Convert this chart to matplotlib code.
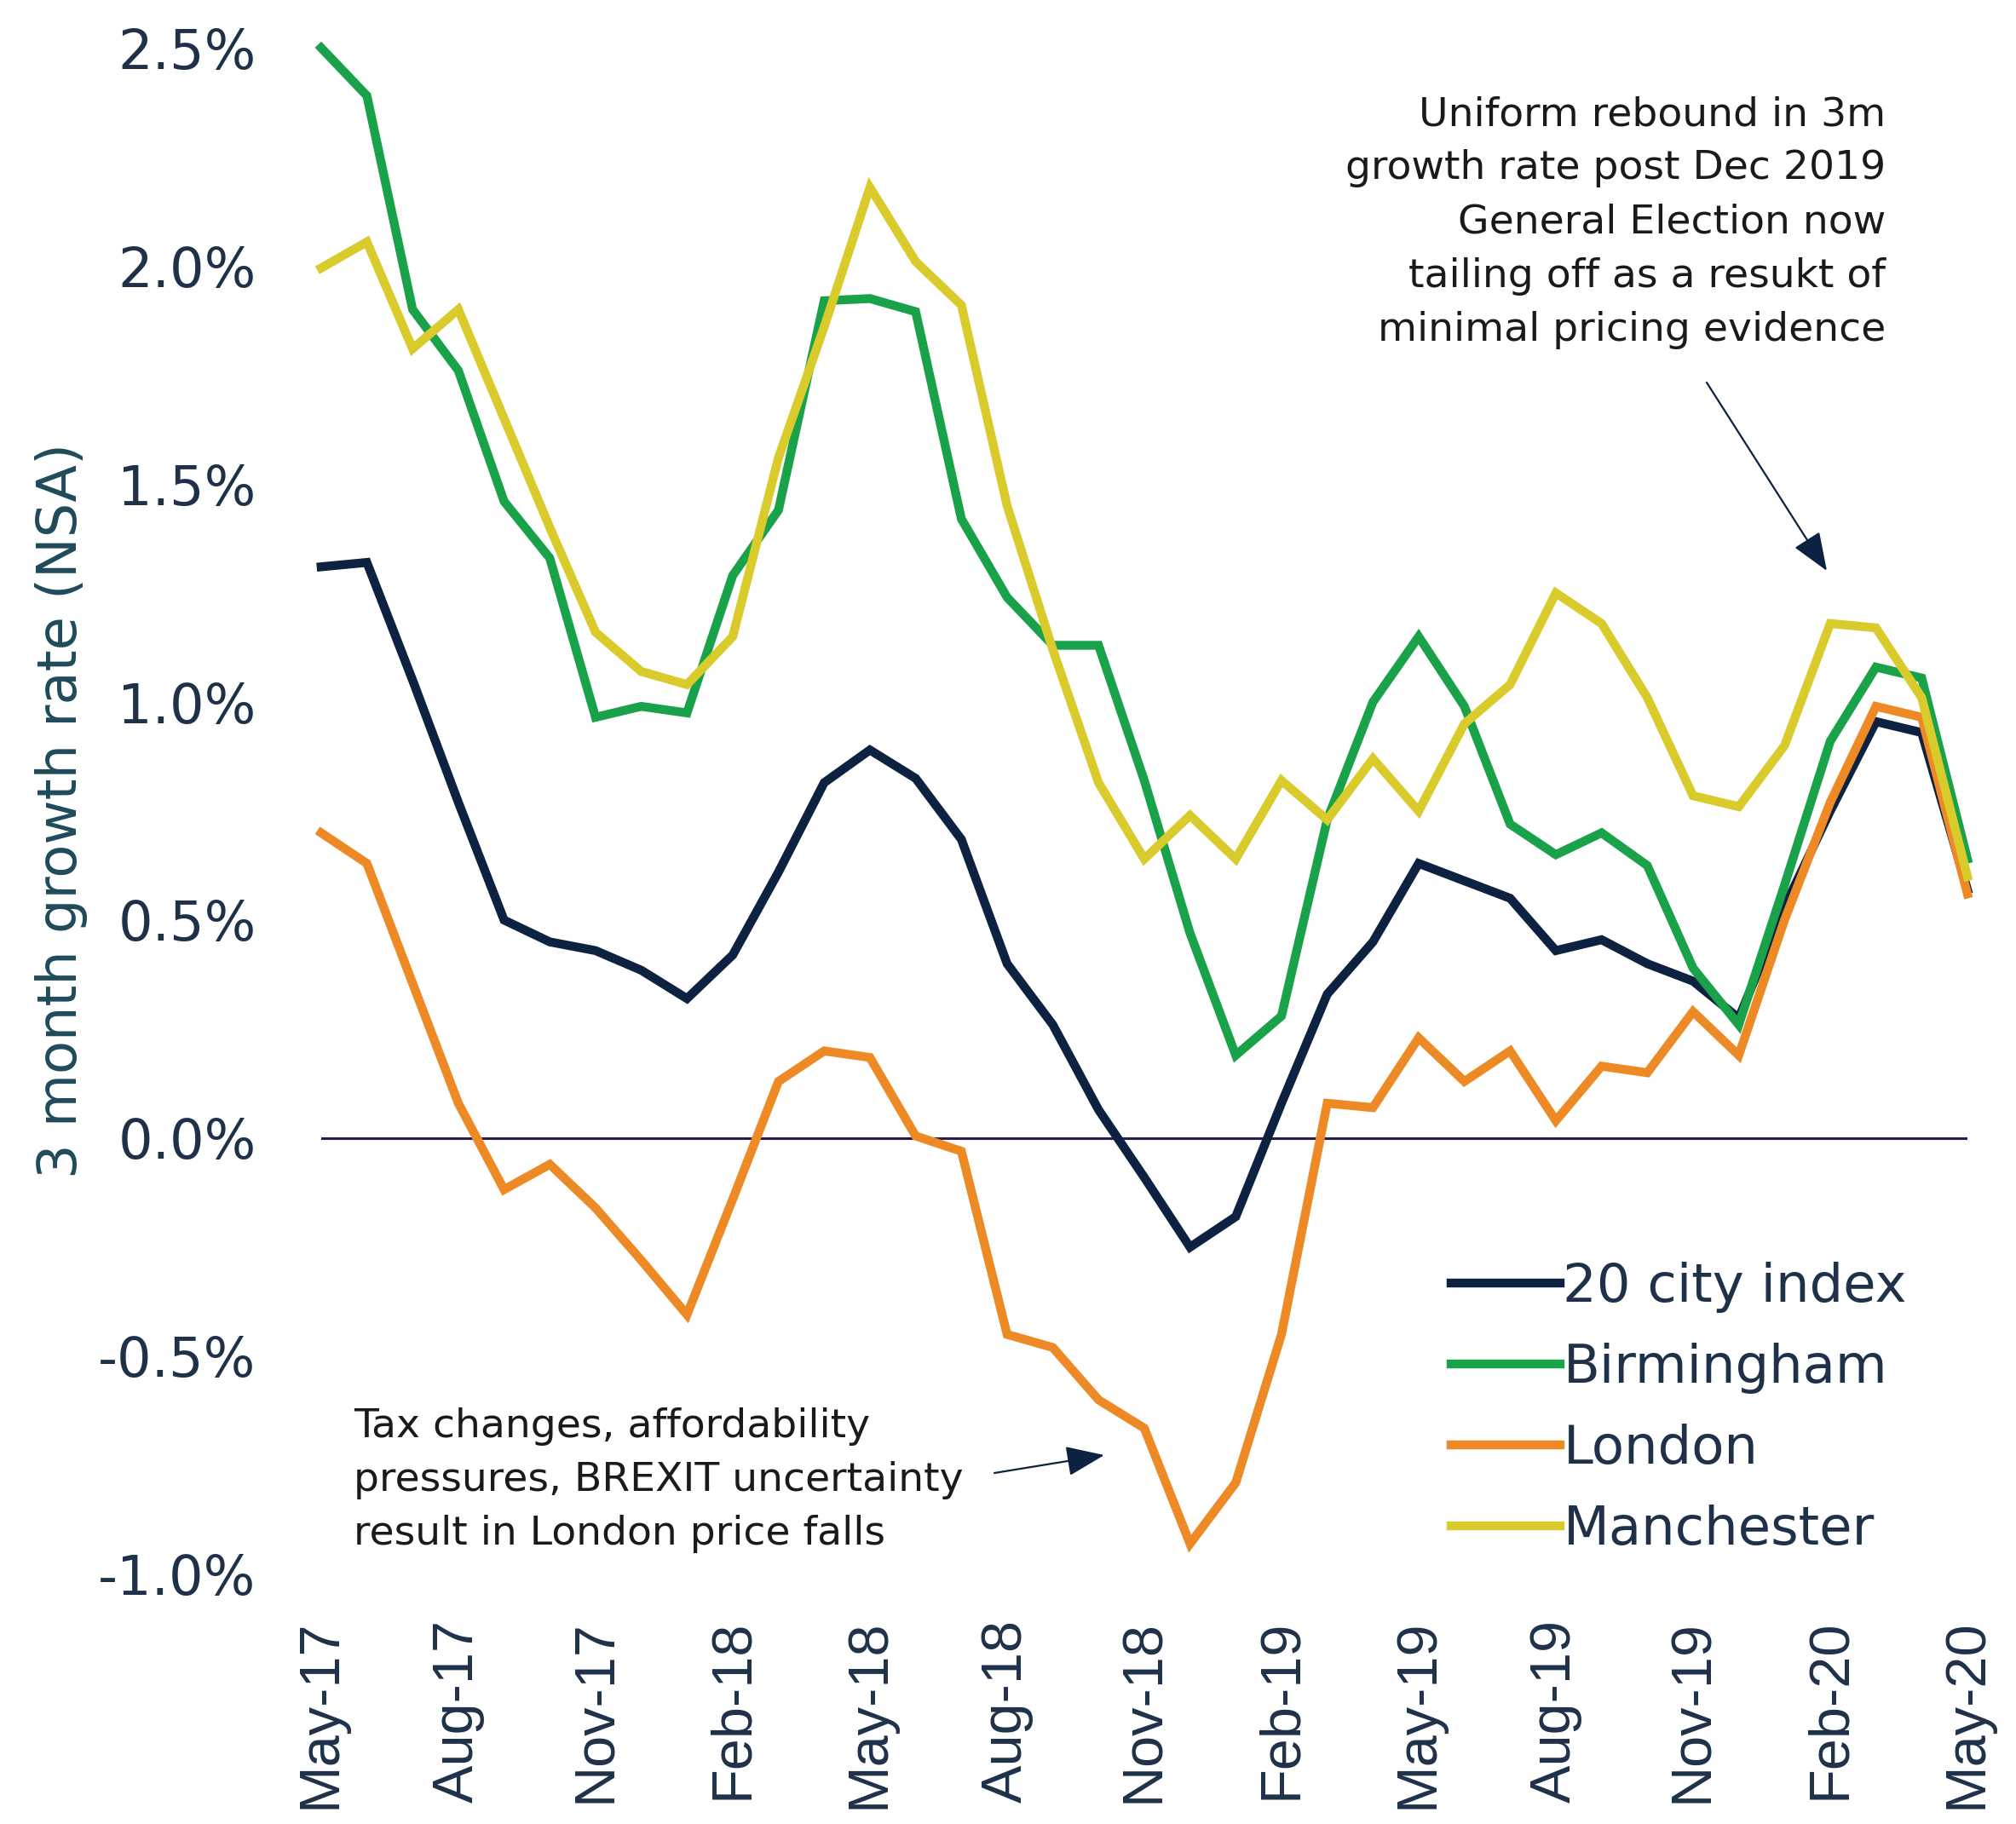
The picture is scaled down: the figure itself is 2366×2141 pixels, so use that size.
import matplotlib
matplotlib.use("Agg")
import matplotlib.pyplot as plt

# Monthly 3 month growth rates (%), May-17 .. May-20
months = ["May-17", "Jun-17", "Jul-17", "Aug-17", "Sep-17", "Oct-17", "Nov-17", "Dec-17",
          "Jan-18", "Feb-18", "Mar-18", "Apr-18", "May-18", "Jun-18", "Jul-18", "Aug-18",
          "Sep-18", "Oct-18", "Nov-18", "Dec-18", "Jan-19", "Feb-19", "Mar-19", "Apr-19",
          "May-19", "Jun-19", "Jul-19", "Aug-19", "Sep-19", "Oct-19", "Nov-19", "Dec-19",
          "Jan-20", "Feb-20", "Mar-20", "Apr-20", "May-20"]

city20 = [1.31, 1.32, 1.05, 0.77, 0.50, 0.45, 0.43, 0.385, 0.32, 0.42, 0.61, 0.815, 0.89,
          0.825, 0.685, 0.40, 0.26, 0.065, -0.09, -0.25, -0.18, 0.08, 0.33, 0.45, 0.63,
          0.59, 0.55, 0.43, 0.455, 0.40, 0.36, 0.275, 0.53, 0.75, 0.955, 0.93, 0.57]
birmingham = [2.50, 2.39, 1.90, 1.76, 1.46, 1.33, 0.965, 0.99, 0.975, 1.29, 1.44, 1.92, 1.925,
              1.895, 1.42, 1.24, 1.13, 1.13, 0.82, 0.47, 0.19, 0.28, 0.73, 1.00, 1.15,
              0.99, 0.72, 0.65, 0.70, 0.625, 0.39, 0.26, 0.58, 0.91, 1.08, 1.055, 0.64]
london = [0.70, 0.63, 0.355, 0.08, -0.118, -0.06, -0.16, -0.28, -0.405, -0.14, 0.13, 0.20, 0.185,
          0.005, -0.03, -0.45, -0.48, -0.60, -0.665, -0.93, -0.79, -0.45, 0.08, 0.07, 0.23,
          0.13, 0.20, 0.04, 0.165, 0.15, 0.29, 0.19, 0.50, 0.77, 0.99, 0.965, 0.56]
manchester = [1.995, 2.055, 1.81, 1.90, 1.65, 1.40, 1.16, 1.07, 1.04, 1.15, 1.56, 1.86, 2.18,
              2.01, 1.91, 1.45, 1.12, 0.815, 0.64, 0.74, 0.64, 0.82, 0.73, 0.87, 0.75,
              0.95, 1.04, 1.25, 1.18, 1.01, 0.785, 0.76, 0.90, 1.18, 1.17, 1.01, 0.60]

series_names = ["20 city index", "Birmingham", "London", "Manchester"]
series_colors = ["#0d2240", "#19a24a", "#ee8a25", "#d8cb2b"]

y_ticks = [2.5, 2.0, 1.5, 1.0, 0.5, 0.0, -0.5, -1.0]

note_top = ("Uniform rebound in 3m\ngrowth rate post Dec 2019\nGeneral Election now\n"
            "tailing off as a resukt of\nminimal pricing evidence")
note_bottom = ("Tax changes, affordability\npressures, BREXIT uncertainty\n"
               "result in London price falls")

tick_color = "#1f3049"
W, H = 2366, 2141

fig = plt.figure(figsize=(W / 100, H / 100), dpi=100)
ax = fig.add_axes([0.1593, 0.1369, 0.9759 - 0.1593, 0.9738 - 0.1369])

x = list(range(len(months)))
ax.axhline(0, color="#2e1a4f", lw=2.2, zorder=1)
for vals, name, col in zip([city20, birmingham, london, manchester], series_names, series_colors):
    ax.plot(x, vals, color=col, lw=7.5, label=name, clip_on=False, zorder=2,
            solid_joinstyle="miter")

ax.set_xlim(0, len(months) - 1)
ax.set_ylim(-1.0, 2.5)

ax.set_yticks(y_ticks)
ax.set_yticklabels([f"{v:.1f}%" for v in y_ticks], fontsize=46, color=tick_color,
                   family="DejaVu Sans")
ax.set_xticks(x[::3])
ax.set_xticklabels(months[::3], rotation=90, fontsize=48, color=tick_color,
                   family="Liberation Sans")
ax.tick_params(axis="y", length=0, pad=55)
ax.tick_params(axis="x", length=0, pad=38)
for s in ax.spines.values():
    s.set_visible(False)

ax.set_ylabel("3 month growth rate (NSA)", fontsize=46, color="#1f4a5a", labelpad=9)

leg = ax.legend(loc="center left", bbox_to_anchor=(1672 / W, 0.2276),
                bbox_transform=fig.transFigure, frameon=False, fontsize=45,
                handlelength=2.05, handletextpad=0.05, labelspacing=0.56, borderpad=0)
for t in leg.get_texts():
    t.set_color(tick_color)

# annotations
fig.text(2213 / W, 1 - 261 / H, note_top, ha="right", va="center", fontsize=34,
         color="#1a1a1a", linespacing=1.52)
fig.text(415 / W, 1 - 1652 / H, note_bottom, ha="left", va="top", fontsize=34,
         color="#1a1a1a", linespacing=1.52)

arrow_style = dict(arrowstyle="-|>,head_length=1.4,head_width=0.55", mutation_scale=20,
                   color="#0d2240", lw=1.6, shrinkA=0, shrinkB=0)
ax.annotate("", xy=(2144, H - 670), xycoords="figure pixels",
            xytext=(2003, H - 449), textcoords="figure pixels", arrowprops=arrow_style)
ax.annotate("", xy=(1296, H - 1708), xycoords="figure pixels",
            xytext=(1167, H - 1729), textcoords="figure pixels", arrowprops=arrow_style)

fig.savefig("out.png", dpi=100, facecolor="white")
